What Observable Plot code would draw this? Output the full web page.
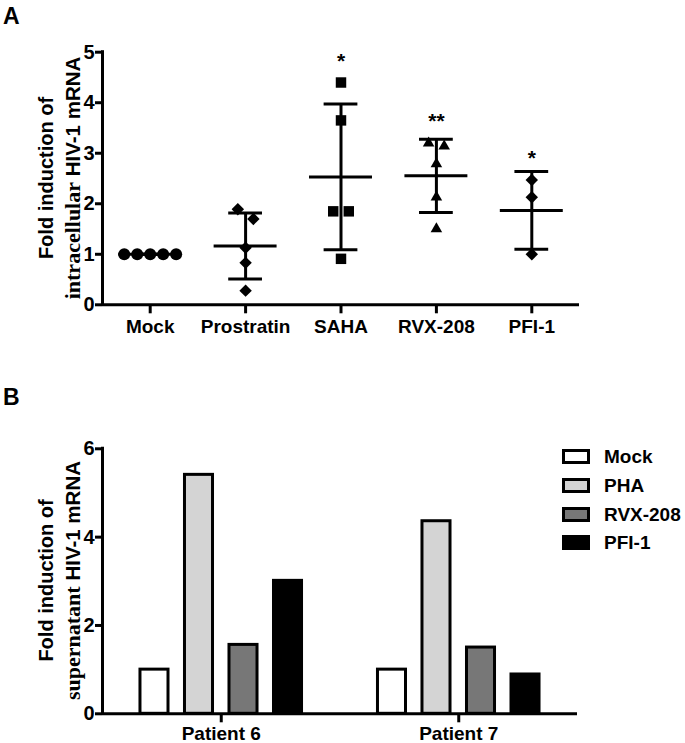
<!DOCTYPE html>
<html>
<head>
<meta charset="utf-8">
<script src="https://cdn.jsdelivr.net/npm/d3@7"></script>
<script src="https://cdn.jsdelivr.net/npm/@observablehq/plot@0.6"></script>
<style>
  html, body { margin: 0; padding: 0; background: #fff; }
  #root { position: relative; width: 685px; height: 743px; background: #fff; overflow: hidden;
          font-family: "Liberation Sans", Arial, sans-serif; font-weight: bold; color: #000; }
  .panel-letter { position: absolute; left: 3px; font-size: 23px; line-height: 1; z-index: 5; }
  .abs { position: absolute; }
  .legend-row { position: absolute; left: 562px; height: 15px; display: flex; align-items: center; z-index: 5; }
  .sw { width: 28px; height: 15px; box-sizing: border-box; border: 3px solid #000; }
  .legend-row span { position: absolute; left: 42px; font-size: 19px; white-space: nowrap; line-height: 1; }
</style>
</head>
<body>
<div id="root">
  <div id="pa" class="abs" style="left:0;top:0"></div>
  <div id="pb" class="abs" style="left:0;top:380px"></div>
  <div class="panel-letter" style="top:5px">A</div>
  <div class="panel-letter" style="top:386px">B</div>
  <div id="legend"></div>
</div>
<script>
// ---------- Panel A data ----------
const groupsA = ["Mock", "Prostratin", "SAHA", "RVX-208", "PFI-1"];
const mockVals = [1, 1, 1, 1, 1];
const prostratinVals = [1.89, 1.70, 1.13, 0.83, 0.28];
const sahaVals = [4.40, 3.65, 1.85, 1.85, 0.91];
const rvxVals = [3.20, 3.14, 2.79, 2.13, 1.50];
const pfiVals = [2.47, 2.13, 1.00];
// horizontal slot of each replicate (scatter spreading, in symbol widths)
const mockSlots = [-2, -1, 0, 1, 2];
const prostratinSlots = [-0.6, 0.6, 0, 0, 0];
const sahaSlots = [0, 0, -0.6, 0.6, 0];
const rvxSlots = [-0.6, 0.6, 0, 0, 0];
const pfiSlots = [0, 0, 0];
const sigLabels = ["", "", "*", "**", "*"];
const sigY = [null, null, 4.89, 3.71, 2.98];

// ---------- Panel B data ----------
const treatmentsB = ["Mock", "PHA", "RVX-208", "PFI-1"];
const patientsB = ["Patient 6", "Patient 7"];
const patient6 = [1.0, 5.41, 1.56, 3.01];
const patient7 = [1.0, 4.36, 1.50, 0.89];

// ---------- styling ----------
const FONT = "'Liberation Sans', Arial, sans-serif";
const SERIF = "'Liberation Serif', 'Times New Roman', serif";
const baseStyle = {fontFamily: FONT, fontSize: "19px", fontWeight: "bold", color: "#000", background: "#fff", overflow: "visible"};
const symbolsA = ["circle", "diamond2", "square", "triangle", "diamond2"];
const radiiA = [6, 5.6, 5.9, 4.3, 5.6];
const fillsB = ["#ffffff", "#d4d4d4", "#777777", "#000000"];

// ---------- Panel A ----------
const valsA = [mockVals, prostratinVals, sahaVals, rvxVals, pfiVals];
const slotsA = [mockSlots, prostratinSlots, sahaSlots, rvxSlots, pfiSlots];
const pointsA = valsA.flatMap((vs, i) => vs.map((v, k) => ({i, group: groupsA[i], v, slot: slotsA[i][k]})));
const statsA = valsA.map((vs, i) => {
  const m = d3.mean(vs);
  const s = d3.deviation(vs) || 0;
  return {i, mean: m, lo: m - s, hi: m + s};
});
const sigA = groupsA.map((g, i) => ({i, label: sigLabels[i], y: sigY[i]})).filter(d => d.label);
const SLOT = 0.136;   // one slot in x-units
const CAP = 0.177;    // half cap width
const MEANW = 0.33;   // half mean-line width

const plotA = Plot.plot({
  width: 685, height: 345,
  marginLeft: 102, marginRight: 106, marginTop: 51.7, marginBottom: 40.7,
  style: baseStyle,
  x: {domain: [-0.5, 4.5], axis: null},
  y: {domain: [0, 5], axis: null},
  marks: [
    Plot.ruleX(statsA, {x: "i", y1: "lo", y2: "hi", stroke: "#000", strokeWidth: 3}),
    Plot.ruleY(statsA, {y: "hi", x1: d => d.i - CAP, x2: d => d.i + CAP, stroke: "#000", strokeWidth: 3}),
    Plot.ruleY(statsA, {y: "lo", x1: d => d.i - CAP, x2: d => d.i + CAP, stroke: "#000", strokeWidth: 3}),
    Plot.ruleY(statsA, {y: "mean", x1: d => d.i - MEANW, x2: d => d.i + MEANW, stroke: "#000", strokeWidth: 3}),
    ...groupsA.map((g, gi) => Plot.dot(pointsA.filter(d => d.i === gi), {
      x: d => d.i + d.slot * SLOT, y: "v", symbol: symbolsA[gi], r: radiiA[gi], fill: "#000", stroke: "none"
    })),
    Plot.text(sigA, {x: "i", y: "y", text: "label", fontSize: 21, fontWeight: "bold", dy: 4}),
    Plot.ruleX([-0.5], {y1: 0, y2: 5, stroke: "#000", strokeWidth: 3, strokeLinecap: "square"}),
    Plot.ruleY([0], {stroke: "#000", strokeWidth: 3}),
    Plot.axisY([0, 1, 2, 3, 4, 5], {tickSize: 7, tickPadding: 1, strokeWidth: 3, fontSize: 20, fontWeight: "bold", label: null, tickFormat: d => String(d)}),
    Plot.axisX([0, 1, 2, 3, 4], {tickSize: 9, tickPadding: 6, strokeWidth: 3, fontSize: 19, fontWeight: "bold", label: null, tickFormat: i => groupsA[i]})
  ]
});
document.getElementById("pa").appendChild(plotA);

function addYLabel(svg, cy, line1, serifWord, rest) {
  const s = d3.select(svg);
  s.append("text")
    .attr("transform", `translate(46,${cy}) rotate(-90)`)
    .attr("text-anchor", "middle").attr("dy", "0.35em")
    .style("font-family", FONT).style("font-size", "20px").style("font-weight", "bold")
    .text(line1);
  const t = s.append("text")
    .attr("transform", `translate(73,${cy}) rotate(-90)`)
    .attr("text-anchor", "middle").attr("dy", "0.35em")
    .style("font-size", "20.5px").style("font-weight", "bold");
  t.append("tspan").style("font-family", SERIF).style("font-size", "22px").text(serifWord);
  t.append("tspan").style("font-family", FONT).text(rest);
}
addYLabel(plotA, 178, "Fold induction of", "intracellular", " HIV-1 mRNA");

// ---------- Panel B ----------
const valsB = [patient6, patient7];
const barsB = valsB.flatMap((vs, p) => vs.map((v, t) => ({p, t, treatment: treatmentsB[t], v})));
const STEP = 0.1874;  // bar spacing in x-units
const HALF = 0.059;   // half bar width

const plotB = Plot.plot({
  width: 685, height: 363,
  marginLeft: 102, marginRight: 108, marginTop: 68.3, marginBottom: 29.7,
  style: baseStyle,
  x: {domain: [-0.5, 1.5], axis: null},
  y: {domain: [0, 6], axis: null},
  color: {domain: treatmentsB, range: fillsB},
  marks: [
    Plot.rectY(barsB, {
      x1: d => d.p + (d.t - 1.5) * STEP - HALF,
      x2: d => d.p + (d.t - 1.5) * STEP + HALF,
      y1: 0, y2: "v", fill: "treatment", stroke: "#000", strokeWidth: 3
    }),
    Plot.ruleX([-0.5], {y1: 0, y2: 6, stroke: "#000", strokeWidth: 3, strokeLinecap: "square"}),
    Plot.ruleY([0], {stroke: "#000", strokeWidth: 3}),
    Plot.axisY([0, 2, 4, 6], {tickSize: 7, tickPadding: 1, strokeWidth: 3, fontSize: 20, fontWeight: "bold", label: null, tickFormat: d => String(d)}),
    Plot.axisX([0, 1], {tickSize: 9, tickPadding: 4, strokeWidth: 3, fontSize: 19, fontWeight: "bold", label: null, tickFormat: i => patientsB[i]})
  ]
});
document.getElementById("pb").appendChild(plotB);
addYLabel(plotB, 200.5, "Fold induction of", "supernatant", " HIV-1 mRNA");

// ---------- Legend B ----------
const legend = document.getElementById("legend");
treatmentsB.forEach((t, k) => {
  const row = document.createElement("div");
  row.className = "legend-row";
  row.style.top = (449 + k * 28.8) + "px";
  const sw = document.createElement("div");
  sw.className = "sw";
  sw.style.background = fillsB[k];
  const lab = document.createElement("span");
  lab.textContent = t;
  row.appendChild(sw); row.appendChild(lab);
  legend.appendChild(row);
});
</script>
</body>
</html>
